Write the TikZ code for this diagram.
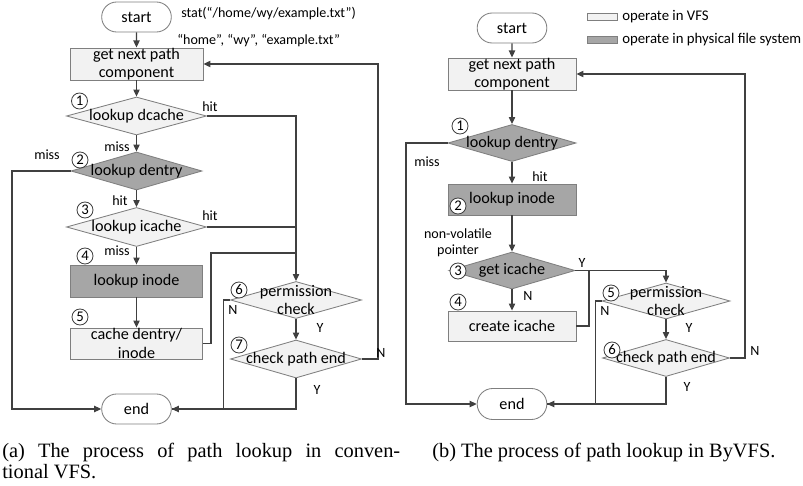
\documentclass[tikz,border=0pt]{standalone}
\usepackage{fontspec}
\setmainfont{Carlito}
\newfontfamily\capfont{Liberation Serif}
\usepackage{xcolor}
\usetikzlibrary{shapes.geometric, shapes.misc, arrows.meta}
\definecolor{box-light}{HTML}{F2F2F2}
\definecolor{box-dark}{HTML}{A6A6A6}
\definecolor{edge-gray}{HTML}{7F7F7F}
\definecolor{line-gray}{HTML}{404040}

\begin{document}
\begin{tikzpicture}[x=0.025cm, y=-0.025cm,
    every node/.style={font=\fontsize{11.5}{13}\selectfont},
    >={Triangle[length=5pt, width=4.5pt]},
    flow/.style={draw=line-gray, line width=0.8pt},
    proc/.style={draw=edge-gray, line width=0.6pt, rectangle, inner sep=0pt,
      align=center, minimum height=8mm},
    decision/.style={draw=edge-gray, line width=0.6pt, diamond, inner sep=0pt,
      minimum height=9.5mm},
    term/.style={draw=edge-gray, line width=0.6pt, rounded rectangle, fill=white,
      minimum width=19.75mm, minimum height=7.5mm},
    vfs/.style={fill=box-light},
    pfs/.style={fill=box-dark},
    num/.style={draw=line-gray, line width=0.6pt, circle, fill=white, inner sep=0pt,
      minimum size=4mm, font=\fontsize{10.5}{12}\selectfont},
    lbl/.style={font=\fontsize{10}{11.5}\selectfont, inner sep=0pt},
    keytxt/.style={font=\fontsize{10.5}{12}\selectfont, inner sep=0pt, anchor=west},
    captxt/.style={font=\capfont\fontsize{14.5}{15}\selectfont, inner sep=0pt}]
  \useasboundingbox (0,0) rectangle (803,486);

  % (a) conventional VFS
  \node[term] (starta) at (136.5,17) {start};
  \node[lbl, anchor=west] (stat) at (181,13) {stat(“/home/wy/example.txt”)};
  \node[lbl, anchor=west] (comps) at (177,41) {“home”, “wy”, “example.txt”};
  \node[proc, vfs, minimum width=33.25mm] (nexta) at (136.5,64) {get next path\\component};
  \node[decision, vfs, minimum width=35mm, label={center:lookup dcache}]
    (dcachea) at (136.5,116) {};
  \node[decision, pfs, minimum width=32.75mm, label={center:lookup dentry}]
    (dentrya) at (136.5,171) {};
  \node[decision, vfs, minimum width=35mm, minimum height=9.75mm,
    label={center:lookup icache}] (icachea) at (136.5,227) {};
  \node[proc, pfs, minimum width=33mm] (inodea) at (136.5,281) {lookup inode};
  \node[proc, vfs, minimum width=33mm, minimum height=7.75mm]
    (cachea) at (136.5,343.5) {cache dentry/\\inode};
  \node[decision, vfs, minimum width=32.75mm, minimum height=9.25mm,
    label={[align=center]center:permission\\check}] (perma) at (296,300) {};
  \node[decision, vfs, minimum width=32.75mm, label={center:check path end}]
    (checka) at (296,359) {};
  \node[term] (enda) at (136.5,409) {end};

  \node[num] (na1) at (79.5,101) {1};
  \node[num] (na2) at (80,160) {2};
  \node[num] (na3) at (85,210) {3};
  \node[num] (na4) at (85,256) {4};
  \node[num] (na5) at (80,317) {5};
  \node[num] (na6) at (239,290) {6};
  \node[num] (na7) at (239,345) {7};

  \draw[flow, ->] (starta) -- (nexta);
  \draw[flow, ->] (nexta) -- (dcachea);
  \draw[flow, ->] (dcachea) -- (dentrya)
    node[lbl] (missa1) at (117,147) {miss};
  \draw[flow, ->] (dentrya) -- (icachea)
    node[lbl] (hita2) at (120,201) {hit};
  \draw[flow, ->] (icachea) -- (inodea)
    node[lbl] (missa3) at (117,251) {miss};
  \draw[flow, ->] (inodea) -- (cachea);
  \draw[flow, ->] (dcachea.east) -| (perma.north)
    node[lbl] (hita1) at (210,107) {hit};
  \draw[flow] (icachea.east) -- (icachea.east -| perma.north)
    node[lbl] (hita3) at (210,216) {hit};
  \coordinate (joina) at (296,253);
  \draw[flow] (cachea.east) -- ++(8,0) |- (joina);
  \draw[flow, ->] (dentrya.west) -- (12,171) |- (enda.west)
    node[lbl] (missa2) at (47,155) {miss};
  \draw[flow, ->] (perma) -- (checka)
    node[lbl] (ya1) at (320,328) {Y};
  \draw[flow] (perma.west) -- ++(-7,0) |- (enda.east)
    node[lbl] (na) at (233,310) {N};
  \draw[flow, ->] (checka.south) |- (enda.east)
    node[lbl] (ya2) at (317,390) {Y};
  \draw[flow, ->] (checka.east) -- ++(16,0) |- (nexta.east)
    node[lbl] (nb) at (381,353) {N};

  % (b) ByVFS
  \node[term] (startb) at (512,28) {start};
  \node[draw=edge-gray, line width=0.6pt, vfs, minimum width=7.5mm, minimum height=1.75mm,
    inner sep=0pt] (keyvfs) at (602,16.5) {};
  \node[keytxt] (keyvfstext) at (622,16.5) {operate in VFS};
  \node[draw=edge-gray, line width=0.6pt, pfs, minimum width=7.5mm, minimum height=1.75mm,
    inner sep=0pt] (keypfs) at (602,40) {};
  \node[keytxt] (keypfstext) at (622,40) {operate in physical file system};

  \node[proc, vfs, minimum width=32mm, minimum height=7.5mm] (nextb) at (512,74)
    {get next path\\component};
  \node[decision, pfs, minimum width=32mm, minimum height=9.25mm,
    label={center:lookup dentry}] (dentryb) at (512,143) {};
  \node[proc, pfs, minimum width=32mm, minimum height=7.75mm] (inodeb) at (512,199.5)
    {lookup inode};
  \node[decision, pfs, minimum width=31.5mm, minimum height=9.25mm,
    label={center:get icache}] (icacheb) at (512,270.5) {};
  \node[proc, vfs, minimum width=32mm, minimum height=7.5mm] (createb) at (512,326)
    {create icache};
  \node[decision, vfs, minimum width=32mm, minimum height=9mm,
    label={[align=center]center:permission\\check}] (permb) at (666,301) {};
  \node[decision, vfs, minimum width=31.75mm, minimum height=9.25mm,
    label={center:check path end}] (checkb) at (666,358) {};
  \node[term, minimum height=7.75mm] (endb) at (512,404) {end};

  \node[num] (nb1) at (460,126) {1};
  \node[num] (nb2) at (458,206) {2};
  \node[num] (nb3) at (458,271) {3};
  \node[num] (nb4) at (458,302) {4};
  \node[num] (nb5) at (611,293) {5};
  \node[num] (nb6) at (612,350) {6};

  \node[lbl, align=center] (nvp) at (458,243) {non-volatile\\pointer};

  \draw[flow, ->] (startb) -- (nextb);
  \draw[flow, ->] (nextb) -- (dentryb);
  \draw[flow, ->] (dentryb) -- (inodeb)
    node[lbl] (hitb) at (540,177) {hit};
  \draw[flow, ->] (inodeb) -- (icacheb);
  \draw[flow, ->] (icacheb) -- (createb)
    node[lbl] (nc) at (528,296) {N};
  \draw[flow, ->] (permb) -- (checkb)
    node[lbl] (yb1) at (689,328) {Y};
  \draw[flow, ->] (dentryb.west) -- (406,143) |- (endb.west)
    node[lbl] (missb) at (427,162) {miss};
  \draw[flow, ->] (icacheb.east) -| (permb.north)
    node[lbl] (yc) at (582,263) {Y};
  \coordinate (joinb) at (589,270.5);
  \draw[flow] (createb.east) -| (joinb);
  \draw[flow] (permb.west) -- ++(-6,0) |- (endb.east)
    node[lbl] (nd) at (605,311) {N};
  \draw[flow, ->] (checkb.south) |- (endb.east)
    node[lbl] (yb2) at (687,387) {Y};
  \draw[flow, ->] (checkb.east) -- ++(15,0) |- (nextb.east)
    node[lbl] (ne) at (755,351) {N};

  % captions
  \node[captxt, anchor=base west] (capa) at (2,457)
    {\makebox[283pt][s]{(a) The process of path lookup in conven-}};
  \node[captxt, anchor=base west] (capa2) at (2,478) {tional VFS.};
  \node[captxt, anchor=base west] (capb) at (432,457)
    {(b) The process of path lookup in ByVFS.};
\end{tikzpicture}
\end{document}
